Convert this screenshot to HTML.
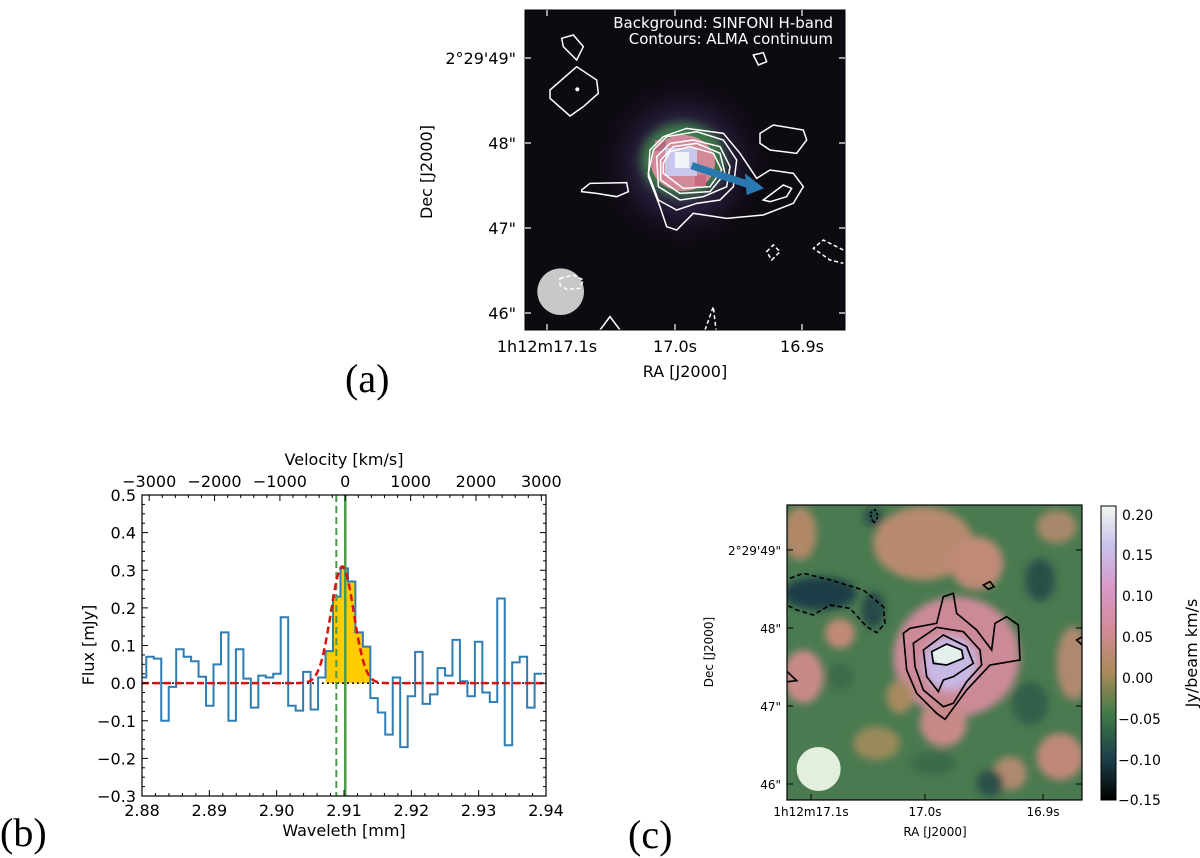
<!DOCTYPE html>
<html><head><meta charset="utf-8">
<style>
body{margin:0;background:#fff;width:1200px;height:858px;overflow:hidden;font-family:"DejaVu Sans","Liberation Sans",sans-serif;}
svg text{font-family:"DejaVu Sans","Liberation Sans",sans-serif;}
.lbl{font-family:"Liberation Serif",serif;font-size:40px;}
#fig{position:absolute;left:0;top:0;}
</style></head><body>
<svg id="fig" width="1200" height="858" xmlns="http://www.w3.org/2000/svg">
<defs>
 <filter id="bl" x="-50%" y="-50%" width="200%" height="200%"><feGaussianBlur stdDeviation="12"/></filter>
 <filter id="bl2" x="-50%" y="-50%" width="200%" height="200%"><feGaussianBlur stdDeviation="5"/></filter>
 <clipPath id="clipA"><rect x="525" y="10" width="320" height="320"/></clipPath>
 <clipPath id="clipC"><rect x="787" y="505" width="295" height="295"/></clipPath>
 <clipPath id="clipB"><rect x="142" y="495" width="404" height="301"/></clipPath>
 <linearGradient id="cbar" x1="0" y1="0" x2="0" y2="1">
  <stop offset="0" stop-color="#f0f8f0"/><stop offset="0.14" stop-color="#c8c0ea"/>
  <stop offset="0.28" stop-color="#d898c8"/><stop offset="0.42" stop-color="#d48a98"/>
  <stop offset="0.57" stop-color="#a88a58"/><stop offset="0.71" stop-color="#3e7a48"/>
  <stop offset="0.86" stop-color="#1d3f48"/><stop offset="1" stop-color="#000"/>
 </linearGradient>
 <radialGradient id="glow"><stop offset="0" stop-color="#5a4a80" stop-opacity="0.9"/><stop offset="0.6" stop-color="#2a1f40" stop-opacity="0.7"/><stop offset="1" stop-color="#120c18" stop-opacity="0"/></radialGradient>
</defs>

<g>
 <rect x="525" y="10" width="320" height="320" fill="#0e0a12"/>
 <g clip-path="url(#clipA)">
  <circle cx="683" cy="163" r="85" fill="url(#glow)"/>
  <ellipse cx="683" cy="160" rx="42" ry="37" fill="#3e7a48" filter="url(#bl2)"/>
  <ellipse cx="683" cy="163" rx="32" ry="28" fill="#d28a9a"/>
  <rect x="655" y="140" width="11" height="11" fill="#b86a80"/><rect x="695" y="175" width="11" height="11" fill="#c86a80"/>
  <rect x="665" y="148" width="32" height="28" fill="#c8c8ec"/>
  <rect x="675" y="152" width="14" height="16" fill="#f0f4f8"/>
  <g transform="translate(410,0) scale(0.33333)" fill="none" stroke="#fff" stroke-width="4.5">
   <path d="M750,620 L770,680 800,690 850,640 950,655 1060,645 1150,610 1180,560 1150,520 1080,510 1040,535 990,460 940,400 830,385 760,410 720,450 715,530 Z"/>
   <path d="M745,600 L800,630 860,610 930,600 970,560 980,480 940,420 860,395 770,410 730,450 715,520 Z"/>
   <path d="M745,560 L810,600 880,590 950,560 960,500 930,440 850,420 780,430 740,470 Z"/>
   <path d="M752,540 L810,580 900,575 945,520 930,460 860,430 790,440 752,480 Z"/>
   <path d="M760,520 L820,565 900,560 935,510 910,460 840,440 780,455 760,490 Z"/>
   <path d="M515,570 L540,550 650,548 655,575 620,590 560,580 515,575 Z"/>
   <path d="M420,270 L500,200 560,240 565,280 520,320 480,348 420,295 Z"/>
   <path d="M455,115 L490,105 520,140 500,180 460,140 Z"/>
   <path d="M1050,400 L1090,375 1180,390 1190,420 1160,460 1080,450 1050,430 Z"/>
   <path d="M1060,600 L1120,555 1145,565 1130,590 1080,605 Z"/>
   <path d="M1030,165 L1060,158 1070,185 1045,195 Z"/>
   <path d="M570,990 L600,950 630,990"/>
   <g stroke-dasharray="12,8">
    <path d="M1070,755 L1090,735 1110,755 1085,780 Z"/>
    <path d="M1300,750 L1240,720 1210,745 1260,780 1300,790"/>
    <path d="M885,990 L910,920 918,990"/>
   </g>
   <circle cx="502" cy="268" r="4" fill="#fff"/>
   <circle cx="452" cy="875" r="70" fill="#c8c8c8" stroke="none"/>
   <path d="M450,835 L490,825 520,840 510,865 470,868 450,855 Z" stroke-dasharray="12,8"/>
   <line x1="845" y1="497" x2="1020" y2="555" stroke="#2a78b0" stroke-width="22"/>
   <polygon points="1005,520 1062,565 1010,585" fill="#2a78b0" stroke="none"/>
  </g>
 </g>
 <rect x="525" y="10" width="320" height="320" fill="none" stroke="#000" stroke-width="1"/>
 <g fill="#fff" font-size="15" text-anchor="end">
  <text x="833" y="28">Background: SINFONI H-band</text>
  <text x="833" y="44">Contours: ALMA continuum</text>
 </g>
 <g stroke="#fff" stroke-width="1.2">
  <line x1="525" y1="58" x2="531" y2="58"/><line x1="525" y1="143" x2="531" y2="143"/><line x1="525" y1="228" x2="531" y2="228"/><line x1="525" y1="313" x2="531" y2="313"/>
  <line x1="839" y1="58" x2="845" y2="58"/><line x1="839" y1="143" x2="845" y2="143"/><line x1="839" y1="228" x2="845" y2="228"/><line x1="839" y1="313" x2="845" y2="313"/>
  <line x1="547" y1="330" x2="547" y2="324"/><line x1="675" y1="330" x2="675" y2="324"/><line x1="802" y1="330" x2="802" y2="324"/>
  <line x1="547" y1="10" x2="547" y2="16"/><line x1="675" y1="10" x2="675" y2="16"/><line x1="802" y1="10" x2="802" y2="16"/>
 </g>
 <g font-size="16" fill="#000" text-anchor="end">
  <text x="516" y="64">2°29'49"</text><text x="516" y="149">48"</text><text x="516" y="234">47"</text><text x="516" y="319">46"</text>
 </g>
 <g font-size="16" fill="#000" text-anchor="middle">
  <text x="547" y="352">1h12m17.1s</text><text x="675" y="352">17.0s</text><text x="802" y="352">16.9s</text>
  <text x="685" y="377">RA [J2000]</text>
 </g>
 <text transform="translate(432,172) rotate(-90)" font-size="16" text-anchor="middle">Dec [J2000]</text>
 <text class="lbl" x="345" y="392">(a)</text>
</g>

<g id="panelB"></g>
<text class="lbl" x="0" y="846">(b)</text>

<g>
 <rect x="787" y="505" width="295" height="295" fill="#4a7a50"/>
 <g clip-path="url(#clipC)">
  <g transform="translate(690,490) scale(0.33333)">
   <g filter="url(#bl)">
    <ellipse cx="700" cy="160" rx="150" ry="110" fill="#b88a70"/>
    <ellipse cx="860" cy="220" rx="80" ry="80" fill="#c08a78"/>
    <ellipse cx="330" cy="130" rx="50" ry="80" fill="#b08868"/>
    <ellipse cx="1100" cy="110" rx="60" ry="50" fill="#a8886a"/>
    <ellipse cx="340" cy="560" rx="60" ry="80" fill="#c88a88"/>
    <ellipse cx="450" cy="430" rx="45" ry="45" fill="#c08a78"/>
    <ellipse cx="800" cy="500" rx="190" ry="180" fill="#cc8a98"/>
    <ellipse cx="760" cy="700" rx="70" ry="70" fill="#c88a88"/>
    <ellipse cx="1150" cy="520" rx="50" ry="110" fill="#b08870"/>
    <ellipse cx="1110" cy="800" rx="70" ry="70" fill="#c08878"/>
    <ellipse cx="960" cy="850" rx="50" ry="50" fill="#b08a70"/>
    <ellipse cx="560" cy="760" rx="70" ry="50" fill="#9a8a5a"/>
    <ellipse cx="630" cy="620" rx="40" ry="50" fill="#a88a60"/>
    <ellipse cx="390" cy="310" rx="110" ry="50" fill="#1e3c46"/>
    <ellipse cx="550" cy="360" rx="35" ry="55" fill="#254a48"/>
    <ellipse cx="1050" cy="270" rx="45" ry="65" fill="#2a5048"/>
    <ellipse cx="1020" cy="640" rx="55" ry="65" fill="#335e48"/>
    <ellipse cx="900" cy="880" rx="40" ry="40" fill="#2a5048"/>
    <ellipse cx="730" cy="820" rx="70" ry="35" fill="#3a6a48"/>
    <ellipse cx="550" cy="80" rx="30" ry="30" fill="#2a5048"/>
    <ellipse cx="450" cy="560" rx="40" ry="40" fill="#3a6a48"/>
    <ellipse cx="780" cy="520" rx="80" ry="80" fill="#c8b8e4"/>
   </g>
   <ellipse cx="770" cy="495" rx="45" ry="28" fill="#e4f0ec"/>
   <g fill="none" stroke="#000" stroke-width="5">
    <path d="M640,430 L660,415 740,400 760,320 790,310 800,370 860,420 905,480 915,400 950,380 985,405 990,510 900,525 830,600 765,688 740,670 680,610 650,540 Z"/>
    <path d="M670,460 L740,412 820,425 870,480 875,525 830,575 790,640 760,650 700,600 675,530 Z"/>
    <path d="M700,480 L760,435 830,470 850,520 790,560 760,570 745,605 710,560 Z"/>
    <path d="M725,485 L770,462 815,480 820,505 770,525 730,520 Z"/>
    <path d="M880,285 L900,275 912,290 895,298 Z"/>
    <path d="M292,545 L320,572 292,575"/>
    <path d="M1160,450 L1177,440 1177,465 Z"/>
    <path d="M300,265 L340,250 420,270 520,300 580,350 585,400 560,428 530,410 480,355 420,345 370,375 320,360 290,345" stroke-dasharray="14,9"/>
    <path d="M540,70 L555,60 565,80 550,100 Z" stroke-dasharray="8,6"/>
   </g>
   <circle cx="386" cy="837" r="66" fill="#e4eedc"/>
  </g>
 </g>
 <rect x="787" y="505" width="295" height="295" fill="none" stroke="#000" stroke-width="1.2"/>
 <g stroke="#000" stroke-width="1">
  <line x1="787" y1="550" x2="793" y2="550"/><line x1="787" y1="628" x2="793" y2="628"/><line x1="787" y1="706" x2="793" y2="706"/><line x1="787" y1="784" x2="793" y2="784"/>
  <line x1="1076" y1="550" x2="1082" y2="550"/><line x1="1076" y1="628" x2="1082" y2="628"/><line x1="1076" y1="706" x2="1082" y2="706"/><line x1="1076" y1="784" x2="1082" y2="784"/>
  <line x1="811" y1="800" x2="811" y2="794"/><line x1="925" y1="800" x2="925" y2="794"/><line x1="1043" y1="800" x2="1043" y2="794"/>
 </g>
 <g font-size="12" text-anchor="end">
  <text x="781" y="555">2°29'49"</text><text x="781" y="633">48"</text><text x="781" y="711">47"</text><text x="781" y="789">46"</text>
 </g>
 <g font-size="12" text-anchor="middle">
  <text x="811" y="816">1h12m17.1s</text><text x="925" y="816">17.0s</text><text x="1043" y="816">16.9s</text>
  <text x="935" y="836">RA [J2000]</text>
 </g>
 <text transform="translate(713,652) rotate(-90)" font-size="12" text-anchor="middle">Dec [J2000]</text>
 <rect x="1101" y="506" width="15" height="294" fill="url(#cbar)" stroke="#000" stroke-width="1"/>
 <g font-size="14">
  <text x="1122" y="520">0.20</text><text x="1122" y="560">0.15</text><text x="1122" y="601">0.10</text><text x="1122" y="642">0.05</text>
  <text x="1122" y="683">0.00</text><text x="1118" y="724">−0.05</text><text x="1118" y="765">−0.10</text><text x="1118" y="805">−0.15</text>
 </g>
 <text transform="translate(1197,653) rotate(-90)" font-size="16" text-anchor="middle">Jy/beam km/s</text>
 <text class="lbl" x="628" y="848">(c)</text>
</g>
</svg>

<script>
const binStart = 2.88064 - 0.001109;
const binWidth = 0.001109;
const fluxValues = [0.015,0.07,0.065,-0.10,-0.01,0.09,0.07,0.058,0.017,-0.06,0.05,0.135,-0.10,0.09,0.012,-0.065,0.02,0.015,0.025,0.175,-0.06,-0.073,0.03,-0.07,0.015,0.085,0.23,0.305,0.27,0.135,0.097,-0.04,-0.078,-0.137,0.015,-0.17,-0.035,0.083,-0.055,-0.03,0.04,0.02,0.115,0.005,-0.035,0.11,-0.025,-0.05,0.225,-0.165,0.055,0.07,-0.065,0.025];
const lineBins = [25,26,27,28,29,30];
const gaussAmp = 0.31, gaussCenter = 2.90975, gaussSigma = 0.0017;
const restLine = 2.91019, obsLine = 2.90886;
const xTicks = [2.88,2.89,2.90,2.91,2.92,2.93,2.94];
const yTicks = [-0.3,-0.2,-0.1,0.0,0.1,0.2,0.3,0.4,0.5];
const vTicks = [-3000,-2000,-1000,0,1000,2000,3000];

const NS='http://www.w3.org/2000/svg';
const g=document.getElementById('panelB');
const X0=142,X1=546,Y0=495,Y1=796;
const X=l=>X0+(l-2.88)/0.06*(X1-X0);
const Y=f=>Y1-(f+0.3)/0.8*(Y1-Y0);
const V=v=>X(restLine)+v/299792.458*restLine/0.06*(X1-X0);
function mk(t,a,p){const e=document.createElementNS(NS,t);for(const k in a)e.setAttribute(k,a[k]);(p||g).appendChild(e);return e;}
const clip=mk('g',{'clip-path':'url(#clipB)'});
let fp='M'+X(binStart+lineBins[0]*binWidth)+','+Y(0);
lineBins.forEach(i=>{fp+=' L'+X(binStart+i*binWidth)+','+Y(fluxValues[i])+' L'+X(binStart+(i+1)*binWidth)+','+Y(fluxValues[i]);});
fp+=' L'+X(binStart+(lineBins[lineBins.length-1]+1)*binWidth)+','+Y(0)+'Z';
const fillEl=mk('path',{d:fp,fill:'#ffcc00'},clip);


const zl=mk('line',{x1:X0,x2:X1,y1:Y(0),y2:Y(0),stroke:'#000','stroke-width':1.5,'stroke-dasharray':'2,3'},clip);


let sp='';
fluxValues.forEach((v,i)=>{const a=X(binStart+i*binWidth),b=X(binStart+(i+1)*binWidth);sp+=(i?' L':'M')+a+','+Y(v)+' L'+b+','+Y(v);});
const st=mk('path',{d:sp,fill:'none',stroke:'#2f7db5','stroke-width':2},clip);


const l1=mk('line',{x1:X(obsLine),x2:X(obsLine),y1:Y0,y2:Y1,stroke:'#4a9a4a','stroke-width':2,'stroke-dasharray':'7,4'},clip);


const l2=mk('line',{x1:X(restLine),x2:X(restLine),y1:Y0,y2:Y1,stroke:'#4a9a4a','stroke-width':2.5},clip);


let gp='';
for(let k=0;k<=400;k++){const l=2.88+k*0.06/400;const f=gaussAmp*Math.exp(-0.5*Math.pow((l-gaussCenter)/gaussSigma,2));gp+=(k?' L':'M')+X(l).toFixed(1)+','+Y(f).toFixed(1);}
const ga=mk('path',{d:gp,fill:'none',stroke:'#dd1111','stroke-width':2.5,'stroke-dasharray':'7,4'},clip);


const fr=mk('rect',{x:X0,y:Y0,width:X1-X0,height:Y1-Y0,fill:'none',stroke:'#000','stroke-width':1.2});


for(let l=2.88;l<=2.9401;l+=0.002){const x=X(l);const maj=Math.abs(Math.round(l*100)-l*100)<1e-6;const s=maj?6:3;mk('line',{x1:x,x2:x,y1:Y1,y2:Y1-s,stroke:'#000'});}
for(let f=-0.3;f<=0.5001;f+=0.025){const y=Y(f);const maj=Math.abs(Math.round(f*10)-f*10)<1e-6;const s=maj?6:3;mk('line',{x1:X0,x2:X0+s,y1:y,y2:y,stroke:'#000'});mk('line',{x1:X1,x2:X1-s,y1:y,y2:y,stroke:'#000'});}
for(let v=-3000;v<=3000;v+=200){const x=V(v);if(x<X0||x>X1)continue;const s=v%1000===0?6:3;mk('line',{x1:x,x2:x,y1:Y0,y2:Y0+s,stroke:'#000'});}
xTicks.forEach(t=>{const e=mk('text',{x:X(t),y:Y1+20,'font-size':16,'text-anchor':'middle'});e.textContent=t.toFixed(2);

});
yTicks.forEach(t=>{const e=mk('text',{x:X0-6,y:Y(t)+6,'font-size':16,'text-anchor':'end'});e.textContent=(t<0?'−':'')+Math.abs(t).toFixed(1);

});
vTicks.forEach(t=>{const e=mk('text',{x:V(t),y:Y0-8,'font-size':16,'text-anchor':'middle'});e.textContent=(t<0?'−':'')+Math.abs(t);

});
const xt=mk('text',{x:(X0+X1)/2,y:836,'font-size':16,'text-anchor':'middle'});xt.textContent='Waveleth [mm]';


const vt=mk('text',{x:(X0+X1)/2,y:465,'font-size':16,'text-anchor':'middle'});vt.textContent='Velocity [km/s]';


const yt=mk('text',{transform:'translate(94,645) rotate(-90)','font-size':16,'text-anchor':'middle'});yt.textContent='Flux [mJy]';


</script>
</body></html>
